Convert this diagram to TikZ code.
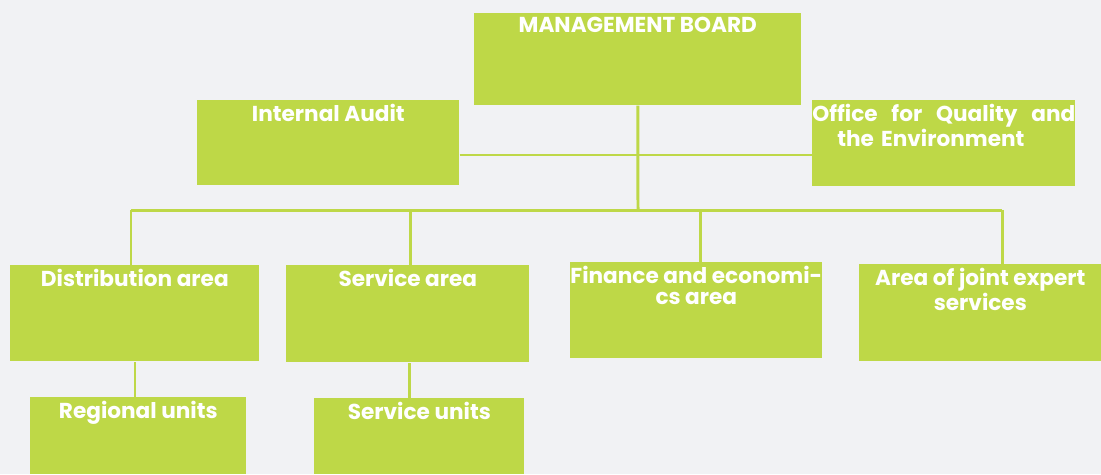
\documentclass[tikz,border=0pt]{standalone}
\usepackage{fontspec}
\setmainfont{Poppins}
\definecolor{lime}{HTML}{BED847}
\definecolor{paper}{HTML}{F1F2F4}
\tikzset{
  unit/.style={fill=lime, anchor=north west, inner sep=0pt},
  boxtext/.style={anchor=north, text=white, font=\bfseries\fontsize{12.3}{11.8}\selectfont, align=center, inner sep=0pt, yshift=-0.08cm},
  link/.style={draw=lime, line width=1.7pt}
}
\begin{document}
\begin{tikzpicture}[x=0.02cm, y=-0.02cm]
  \fill[paper] (0,0) rectangle (1101,474);
  \useasboundingbox (0,0) rectangle (1101,474);
  % top level
  \node[unit, minimum width=6.54cm, minimum height=1.84cm, label={[boxtext]north:MANAGEMENT BOARD}] (board) at (474,13) {};
  \node[unit, minimum width=5.24cm, minimum height=1.70cm, label={[boxtext]north:Internal Audit}] (audit) at (197,100) {};
  \node[unit, minimum width=5.26cm, minimum height=1.72cm] (office) at (812,100) {};
  \node[boxtext, text width=5.26cm, align=left] (officetext) at (office.north) {\makebox[\linewidth][s]{Office\hfill for\hfill Quality\hfill and}\\\hspace*{0.5cm}the Environment};
  % areas
  \node[unit, minimum width=4.98cm, minimum height=1.92cm, label={[boxtext]north:Distribution area}] (dist) at (10,265) {};
  \node[unit, minimum width=4.86cm, minimum height=1.94cm, label={[boxtext]north:Service area}] (serv) at (286,265) {};
  \node[unit, minimum width=5.04cm, minimum height=1.92cm, label={[boxtext]north:Finance and economi-\\cs area}] (fin) at (570,262) {};
  \node[unit, minimum width=4.84cm, minimum height=1.94cm, label={[boxtext]north:Area of joint expert\\services}] (joint) at (859,264) {};
  % units
  \node[unit, minimum width=4.32cm, minimum height=1.54cm, label={[boxtext]north:Regional units}] (regional) at (30,397) {};
  \node[unit, minimum width=4.20cm, minimum height=1.52cm, label={[boxtext]north:Service units}] (sunits) at (314,398) {};
  % connectors
  \coordinate (staff) at (638,155);
  \coordinate (bus) at (638,210);
  \coordinate (b1) at (131,210);
  \coordinate (b2) at (410,210);
  \coordinate (b3) at (700,210);
  \coordinate (b4) at (1002,210);
  \draw[link] (board.south) -- (bus);
  \draw[link] (audit.east |- staff) -- (office.west |- staff);
  \draw[link] (b1) -- (b4);
  \draw[link] (b1) -- (b1 |- dist.north);
  \draw[link] (b2) -- (b2 |- serv.north);
  \draw[link] (b3) -- (b3 |- fin.north);
  \draw[link] (b4) -- (b4 |- joint.north);
  \draw[link] (regional.north -| 135,0) -- (dist.south -| 135,0);
  \draw[link] (sunits.north -| 409,0) -- (serv.south -| 409,0);
\end{tikzpicture}
\end{document}
